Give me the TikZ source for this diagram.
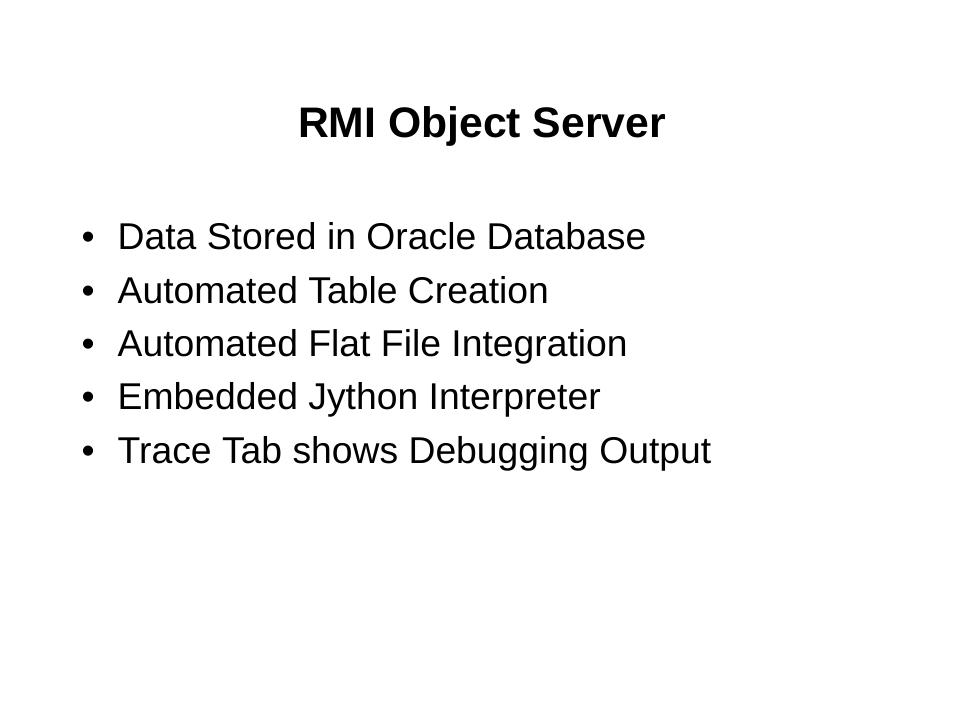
\documentclass[tikz,border=0pt]{standalone}
\usepackage{fontspec}
\setmainfont{Liberation Sans}
\usepackage{tikz}

\begin{document}
\begin{tikzpicture}[x=1pt,y=1pt,
        title/.style={font=\fontsize{42.7}{50}\selectfont\bfseries, anchor=base, inner sep=0pt},
        item/.style={font=\fontsize{37.3}{44}\selectfont, anchor=base west, inner sep=0pt}]
        % Page of the slide
        \useasboundingbox[fill=white] (0,0) rectangle (960,720);

        % Title of the slide
        \node[title] (heading) at (482, 582) {RMI Object Server};

        % The bullet list, the dot hangs left of the text
        \foreach \txt [count=\i] in {Data Stored in Oracle Database, Automated Table Creation,
                Automated Flat File Integration, Embedded Jython Interpreter,
                Trace Tab shows Debugging Output}
            \node[item] (point\i) at (117.5, 470 - 53.3*\i + 53.3)
                {\makebox[0pt][r]{\textbullet\hspace{23pt}}\txt};
    \end{tikzpicture}
\end{document}
